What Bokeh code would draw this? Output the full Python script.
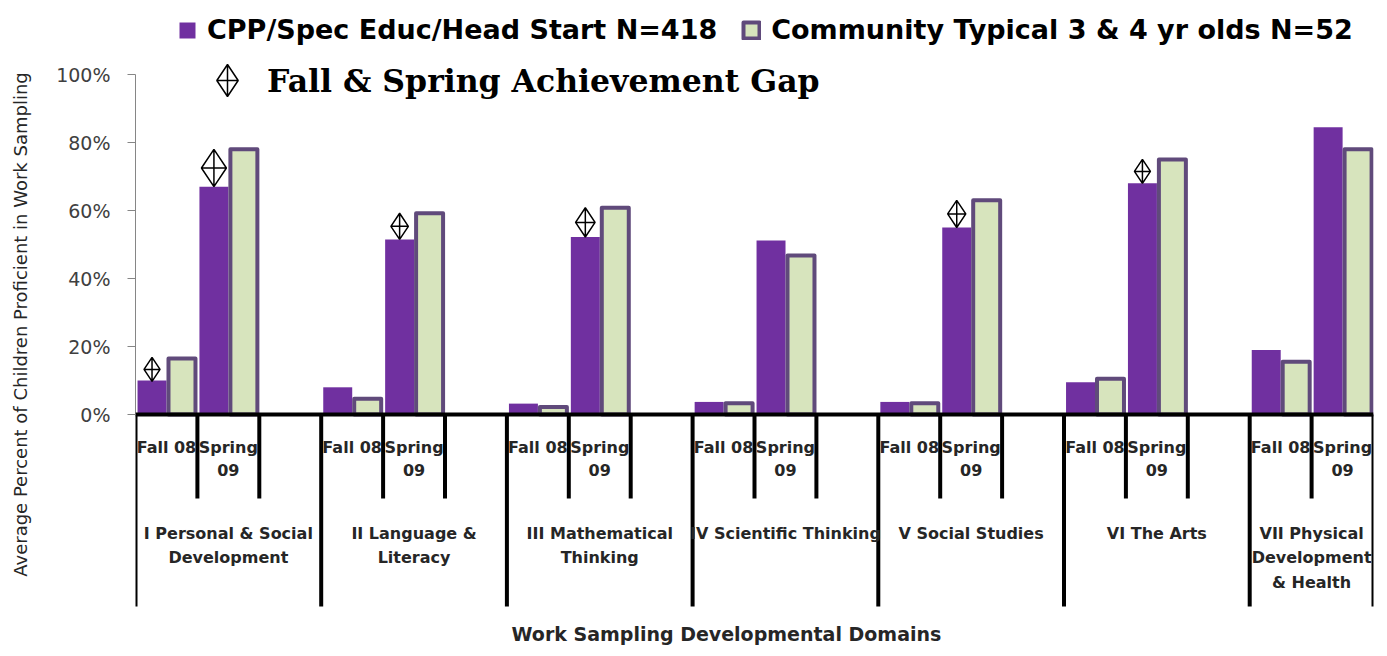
from bokeh.plotting import figure
from bokeh.models import (FactorRange, Range1d, LinearAxis, FixedTicker, NumeralTickFormatter,
                          ColumnDataSource, Legend, LegendItem, Label, Span)
from bokeh.transform import dodge
from bokeh.core.properties import value
from bokeh.embed import file_html
from bokeh.resources import INLINE

# ---------------- data ----------------
domains = ["I Personal & Social\nDevelopment", "II Language &\nLiteracy",
           "III Mathematical\nThinking", "IV Scientific Thinking", "V Social Studies",
           "VI The Arts", "VII Physical\nDevelopment\n& Health"]
seasons = ["Fall 08", "Spring\n09"]
cpp_fall = [0.10, 0.08, 0.032, 0.037, 0.037, 0.095, 0.19]
cpp_spring = [0.67, 0.515, 0.522, 0.512, 0.55, 0.68, 0.845]
comm_fall = [0.165, 0.046, 0.022, 0.033, 0.033, 0.105, 0.155]
comm_spring = [0.78, 0.592, 0.608, 0.468, 0.63, 0.75, 0.78]
gap_fall = [True, False, False, False, False, False, False]
gap_spring = [True, True, True, False, True, True, False]
y_ticks = [0, 0.2, 0.4, 0.6, 0.8, 1.0]
label_cpp = "CPP/Spec Educ/Head Start N=418"
label_comm = "Community Typical 3 & 4 yr olds N=52"
label_gap = "Fall & Spring Achievement Gap"
y_title = "Average Percent of Children Proficient in Work Sampling"
x_title = "Work Sampling  Developmental Domains"

# ---------------- layout ----------------
W, H = 1379, 648
LEFT, RIGHT = 135, 6
PX = 340.0                      # pixels per unit of y
Y1 = 414 / PX
Y0 = Y1 - H / PX
SHORT = -84 / PX
LONG = -192 / PX
SUB_Y = -23 / PX
GROUP_Y = -109 / PX
TITLE_Y = -219 / PX

PURPLE = "#7030A0"
GREEN = "#D7E4BD"
BORDER = "#604A7B"
FONT = "DejaVu Sans"

factors = []
for i, d in enumerate(domains):
    factors += [(d, s) for s in seasons]
    if i < len(domains) - 1:
        factors.append((d, " "))

p = figure(width=W, height=H,
           x_range=FactorRange(factors=factors, factor_padding=0, group_padding=0,
                               subgroup_padding=0, range_padding=0),
           y_range=Range1d(Y0, Y1), output_backend="svg", toolbar_location=None,
           x_axis_location=None, y_axis_location=None,
           min_border_left=LEFT, min_border_right=RIGHT, min_border_top=0, min_border_bottom=0,
           outline_line_color=None, background_fill_color="white", border_fill_color="white")
p.grid.visible = False

# ---------------- bars ----------------
bar_x = [(d, s) for d in domains for s in seasons]
cpp = [v for pair in zip(cpp_fall, cpp_spring) for v in pair]
comm = [v for pair in zip(comm_fall, comm_spring) for v in pair]
src = ColumnDataSource(dict(x=bar_x, cpp=cpp, comm=comm))
purple = p.vbar(x=dodge("x", -0.233, range=p.x_range), top="cpp", width=0.468, source=src,
                fill_color=PURPLE, line_color=None)
green = p.vbar(x=dodge("x", 0.251, range=p.x_range), top="comm", width=0.436, source=src,
               fill_color=GREEN, line_color=BORDER, line_width=4, line_join="round")

# ---------------- category axis (Excel style) ----------------
p.add_layout(Span(location=0, dimension="width", line_color="black", line_width=4))
tick_len = []
for j, f in enumerate(factors):
    first = j == 0 or factors[j - 1][0] != f[0]
    tick_len.append(LONG if first else SHORT)
tsrc = ColumnDataSource(dict(x=factors, y1=tick_len))
p.segment(x0=dodge("x", -0.5, range=p.x_range), x1=dodge("x", -0.5, range=p.x_range),
          y0=0, y1="y1", source=tsrc, line_color="black", line_width=4)
esrc = ColumnDataSource(dict(x=[factors[-1]], y1=[LONG]))
p.segment(x0=dodge("x", 0.5, range=p.x_range), x1=dodge("x", 0.5, range=p.x_range),
          y0=0, y1="y1", source=esrc, line_color="black", line_width=4)

lsrc = ColumnDataSource(dict(x=bar_x, text=[s for d in domains for s in seasons]))
p.text(x="x", y=SUB_Y, text="text", source=lsrc, text_align="center", text_baseline="top",
       text_font=value(FONT), text_font_style="bold", text_font_size="16px",
       text_line_height=1.24, text_color="#262626")
gsrc_lab = ColumnDataSource(dict(x=domains, text=domains))
p.text(x="x", y=GROUP_Y, text="text", source=gsrc_lab, text_align="center", text_baseline="top",
       text_font=value(FONT), text_font_style="bold", text_font_size="16px",
       text_line_height=1.29, text_color="#262626")

# ---------------- achievement gap markers ----------------
gx, gy, gs = [], [], []
for i, d in enumerate(domains):
    for s, flag, a, b in ((seasons[0], gap_fall[i], cpp_fall[i], comm_fall[i]),
                          (seasons[1], gap_spring[i], cpp_spring[i], comm_spring[i])):
        if flag:
            gx.append((d, s))
            gy.append((a + b) / 2)
            gs.append(max((b - a) * PX, 24))
gsrc = ColumnDataSource(dict(x=gx, y=gy, size=gs))
gap = p.scatter(x=dodge("x", -0.233, range=p.x_range), y="y", size="size", marker="diamond_cross",
                source=gsrc, fill_color=None, line_color="black", line_width=1.5)

# ---------------- y axis ----------------
yax = LinearAxis(bounds=(0, 1), ticker=FixedTicker(ticks=y_ticks, minor_ticks=[]),
                 formatter=NumeralTickFormatter(format="0%"),
                 major_tick_in=0, major_tick_out=8, minor_tick_in=0, minor_tick_out=0,
                 axis_line_color="#868686", major_tick_line_color="#868686",
                 major_label_standoff=17, major_label_text_font=FONT,
                 major_label_text_font_size="19px", major_label_text_color="#404040",
                 axis_label=y_title, axis_label_standoff=22, axis_label_text_font=FONT,
                 axis_label_text_font_style="normal", axis_label_text_font_size="18px",
                 axis_label_text_color="#262626")
p.add_layout(yax, "left")

p.add_layout(Label(x=9.6, y=TITLE_Y, text=x_title, text_align="center", text_baseline="middle",
                   text_font=FONT, text_font_style="bold", text_font_size="19px",
                   text_color="#262626"))

# ---------------- legends ----------------
leg1 = Legend(items=[LegendItem(label=label_cpp, renderers=[purple]),
                     LegendItem(label=label_comm, renderers=[green])],
              orientation="horizontal", location=(42, 603), glyph_width=20, glyph_height=20,
              label_standoff=10, spacing=24, padding=0, margin=0, border_line_color=None,
              background_fill_alpha=0, label_text_font=FONT, label_text_font_style="bold",
              label_text_font_size="27px", label_text_color="black")
leg2 = Legend(items=[LegendItem(label=label_gap, renderers=[gap])],
              location=(52, 528), glyph_width=80, glyph_height=80, label_standoff=0,
              padding=0, margin=0, border_line_color=None, background_fill_alpha=0,
              label_text_font="DejaVu Serif", label_text_font_style="bold",
              label_text_font_size="31.5px", label_text_color="black")
p.add_layout(leg1)
p.add_layout(leg2)

open("out.html", "w").write(file_html(p, INLINE))
